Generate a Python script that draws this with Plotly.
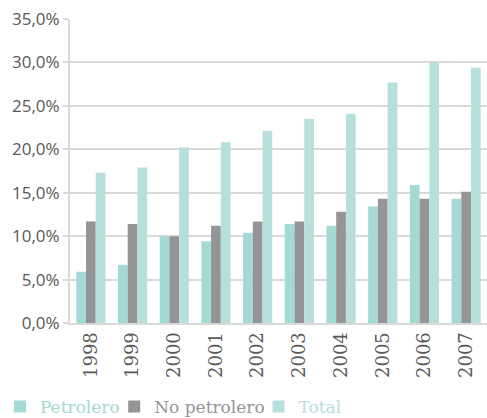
import plotly.graph_objects as go

years = ["1998", "1999", "2000", "2001", "2002", "2003", "2004", "2005", "2006", "2007"]
petrolero = [5.9, 6.7, 10.0, 9.4, 10.4, 11.4, 11.2, 13.4, 15.9, 14.3]
no_petrolero = [11.7, 11.4, 10.0, 11.2, 11.7, 11.7, 12.8, 14.3, 14.3, 15.1]
total = [17.3, 17.9, 20.2, 20.8, 22.1, 23.5, 24.1, 27.7, 30.0, 29.4]
y_ticks = [0, 5, 10, 15, 20, 25, 30, 35]
y_labels = ["0,0%", "5,0%", "10,0%", "15,0%", "20,0%", "25,0%", "30,0%", "35,0%"]

c_p = "#a5d9d5"
c_np = "#959598"
c_t = "#b7e0dc"

serif = "DejaVu Serif"
sans = "Open Sans"

fig = go.Figure()
series = [("Petrolero", petrolero, c_p, "legend", -0.168),
          ("No petrolero", no_petrolero, c_np, "legend2", 0.106),
          ("Total", total, c_t, "legend3", 0.452)]
legends = {}
for name, vals, col, lg, lx in series:
    fig.add_trace(go.Bar(x=years, y=vals, name=name, legend=lg,
                         marker=dict(color=col, line=dict(width=0))))
    legends[lg] = dict(orientation="h", x=lx, y=-0.276, xanchor="left", yanchor="middle",
                       font=dict(size=17, family=serif, color=col), itemwidth=30,
                       bgcolor="rgba(0,0,0,0)")

fig.update_layout(
    width=487, height=418,
    margin=dict(l=70, r=0, t=19, b=95, autoexpand=False),
    barmode="group", bargap=0.3, bargroupgap=0,
    plot_bgcolor="white", paper_bgcolor="white",
    font=dict(family=serif, color="#595959"),
    showlegend=True,
    xaxis=dict(tickangle=-90, tickfont=dict(size=18, family=serif, color="#595959"),
               range=[-0.5, 9.5], automargin=False,
               showline=True, linecolor="#d9d9d9", linewidth=2, ticks="", showgrid=False),
    yaxis=dict(range=[0, 35], tickvals=y_ticks, ticktext=y_labels, automargin=False,
               tickfont=dict(size=17, family=sans, color="#595959"),
               showgrid=True, gridcolor="#d9d9d9", gridwidth=2,
               showline=True, linecolor="#d9d9d9", linewidth=2, zeroline=False, ticks="outside",
               ticklen=5, tickcolor="#d9d9d9", tickwidth=2),
    **legends,
)

fig.write_html("out.html", config={"displayModeBar": False},
               post_script="document.body.style.margin='0';document.body.style.padding='0';")
